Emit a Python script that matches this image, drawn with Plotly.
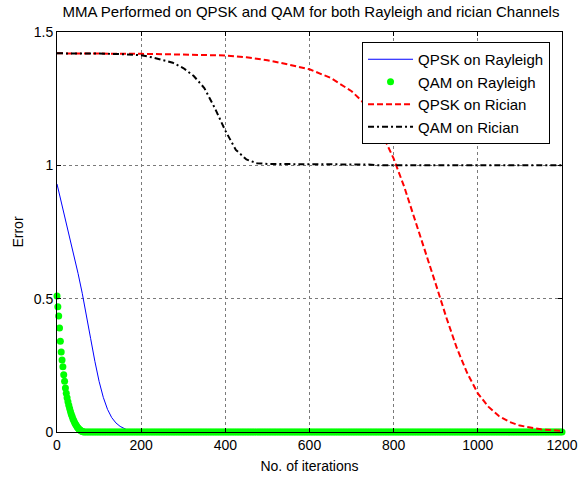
import plotly.graph_objects as go

# ---- data ----
qpsk_rayleigh_x = [0, 10, 20, 30, 40, 50, 60, 70, 80, 90, 100, 110, 120, 130, 140, 150, 160, 170, 180,
                   200, 300, 400, 500, 600, 700, 800, 900, 1000, 1100, 1200]
qpsk_rayleigh_y = [0.93, 0.865, 0.80, 0.735, 0.665, 0.595, 0.52, 0.44, 0.35, 0.265, 0.19, 0.13, 0.085,
                   0.054, 0.034, 0.021, 0.012, 0.005, 0.001,
                   0.0, 0.0, 0.0, 0.0, 0.0, 0.0, 0.0, 0.0, 0.0, 0.0, 0.0]

qam_rayleigh_head_x = list(range(0, 66, 2))
qam_rayleigh_head_y = [0.51, 0.47, 0.435, 0.39, 0.34, 0.30, 0.27, 0.245, 0.215, 0.19, 0.165, 0.145,
                       0.128, 0.113, 0.10, 0.088, 0.077, 0.067, 0.058, 0.049, 0.042, 0.035, 0.029,
                       0.024, 0.019, 0.015, 0.011, 0.008, 0.006, 0.004, 0.002, 0.001, 0.0]
qam_rayleigh_tail_x = list(range(68, 1201, 4))
qam_rayleigh_tail_y = [0.0] * len(qam_rayleigh_tail_x)

qpsk_rician_x = [0, 50, 100, 150, 200, 250, 300, 350, 400, 450, 500, 550, 600, 650, 700, 725, 750, 775,
                 800, 825, 850, 875, 900, 925, 950, 975, 1000, 1025, 1050, 1075, 1100, 1150, 1200]
qpsk_rician_y = [1.420, 1.420, 1.420, 1.419, 1.418, 1.417, 1.416, 1.415, 1.412, 1.405, 1.394, 1.378,
                 1.360, 1.328, 1.278, 1.24, 1.185, 1.11, 1.025, 0.92, 0.80, 0.68, 0.555, 0.43, 0.315,
                 0.22, 0.145, 0.095, 0.06, 0.038, 0.024, 0.01, 0.004]

qam_rician_x = [0, 50, 100, 150, 200, 225, 250, 275, 300, 325, 350, 375, 400, 425, 450, 475, 500,
                600, 700, 740, 760, 800, 900, 1000, 1100, 1200]
qam_rician_y = [1.420, 1.420, 1.419, 1.417, 1.413, 1.405, 1.396, 1.385, 1.365, 1.335, 1.290, 1.215,
                1.130, 1.058, 1.022, 1.008, 1.005, 1.005, 1.004, 1.003, 1.0, 1.0, 1.0, 1.0, 1.0, 1.0]

x_ticks = [0, 200, 400, 600, 800, 1000, 1200]
y_ticks = [0, 0.5, 1, 1.5]
y_tick_text = ["0", "0.5", "1", "1.5"]

FONT = "Liberation Sans, Arial, sans-serif"

fig = go.Figure()
fig.add_trace(go.Scatter(x=qpsk_rayleigh_x, y=qpsk_rayleigh_y, mode="lines",
                         name="QPSK on Rayleigh", line=dict(color="#0000ff", width=1)))
fig.add_trace(go.Scatter(x=qam_rayleigh_head_x + qam_rayleigh_tail_x,
                         y=qam_rayleigh_head_y + qam_rayleigh_tail_y, mode="markers",
                         name="QAM on Rayleigh", cliponaxis=False,
                         marker=dict(color="#00ff00", size=7, line=dict(width=0))))
fig.add_trace(go.Scatter(x=qpsk_rician_x, y=qpsk_rician_y, mode="lines", name="QPSK on Rician",
                         line=dict(color="#ff0000", width=2, dash="6px,3px")))
fig.add_trace(go.Scatter(x=qam_rician_x, y=qam_rician_y, mode="lines", name="QAM on Rician",
                         line=dict(color="#000000", width=2, dash="6px,3px,2px,3px")))

axis_common = dict(showgrid=True, gridcolor="#7a7a7a", griddash="dot", gridwidth=1,
                   showline=True, linecolor="black", linewidth=1, mirror="ticks",
                   ticks="inside", ticklen=4, tickcolor="black", zeroline=False,
                   automargin=False,
                   tickfont=dict(family=FONT, size=14, color="black"))

fig.update_layout(
    template="none",
    width=578, height=478,
    margin=dict(l=57, r=16, t=32, b=46, autoexpand=False),
    paper_bgcolor="white", plot_bgcolor="white",
    title=dict(text="MMA Performed on QPSK and QAM for both Rayleigh and rician Channels",
               x=0.538, xanchor="center", y=0.975, yanchor="middle", automargin=False,
               font=dict(family=FONT, size=15, color="black")),
    xaxis=dict(range=[0, 1200], tickvals=x_ticks,
               title=dict(text="No. of iterations", font=dict(family=FONT, size=14, color="black"),
                          standoff=9),
               **axis_common),
    yaxis=dict(range=[0, 1.5], tickvals=y_ticks, ticktext=y_tick_text,
               title=dict(text="Error", font=dict(family=FONT, size=14, color="black"), standoff=6),
               **axis_common),
    legend=dict(x=0.604, y=0.975, xanchor="left", yanchor="top", bgcolor="white",
                bordercolor="black", borderwidth=1, itemwidth=45,
                font=dict(family=FONT, size=15, color="black")),
    showlegend=True,
)

fig.write_html("out.html",
               config={"displayModeBar": False},
               post_script="document.body.style.margin='0';"
                           "document.body.style.overflow='hidden';")
